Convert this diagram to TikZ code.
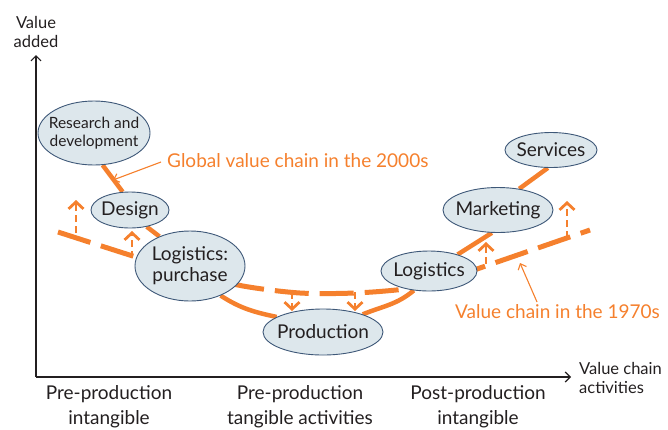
\documentclass[tikz,border=0pt]{standalone}
\usepackage{fontspec}
\setmainfont{Lato}
\usetikzlibrary{arrows.meta,backgrounds,shapes.geometric}
\definecolor{org}{RGB}{245,128,45}
\definecolor{efill}{RGB}{221,231,236}
\definecolor{edraw}{RGB}{62,88,120}
\definecolor{txt}{RGB}{35,31,32}
\begin{document}
\begin{tikzpicture}[x=1pt,y=1pt,
  el/.style={ellipse, draw=edraw, fill=efill, line width=0.9pt, inner sep=0pt},
  lbl/.style={text=txt, font=\fontsize{19}{21}\selectfont, align=center, inner sep=0pt},
  smalllbl/.style={text=txt, font=\fontsize{15.5}{17.5}\selectfont, align=center, inner sep=0pt},
  axlbl/.style={text=txt, font=\fontsize{16.5}{19}\selectfont, align=left, inner sep=0pt},
  botlbl/.style={text=txt, font=\fontsize{19}{25}\selectfont, align=center, inner sep=0pt},
  orglbl/.style={text=org, font=\fontsize{19}{21}\selectfont, inner sep=0pt, anchor=west},
  chain/.style={org, line width=4.5pt},
  oldchain/.style={org, line width=5pt, dash pattern=on 34pt off 11pt},
  shiftarrow/.style={org, line width=2.8pt, dash pattern=on 7pt off 4pt, -{Straight Barb[length=7pt,width=15pt,line width=2.8pt]}},
  note/.style={org, line width=1.1pt, -{Straight Barb[length=5pt,width=9pt]}},
  axis/.style={txt, line width=1.2pt}
]
\useasboundingbox (0,0) rectangle (668,-429);

% axes
\coordinate (origin) at (36,-377);
\coordinate (ytip) at (36,-55);
\coordinate (xtip) at (571,-377);
\draw[axis, -{Straight Barb[length=5pt,width=10pt]}] (origin) -- (ytip);
\draw[axis, -{Straight Barb[length=5pt,width=10pt]}] (origin) -- (xtip);
\node[axlbl, align=center] (yl) at (36,-32) {Value\\added};
\node[axlbl, anchor=west] (xl) at (579,-377.5) {Value chain\\activities};

% bottom labels
\node[botlbl] (b1) at (109,-407) {Pre-production\\intangible};
\node[botlbl] (b2) at (300,-407) {Pre-production\\tangible activities};
\node[botlbl] (b3) at (478,-407) {Post-production\\intangible};

% ellipses
\node[el, minimum width=112pt, minimum height=64pt] (rd) at (94,-133) {};
\node[el, minimum width=78pt, minimum height=36pt] (des) at (130,-210) {};
\node[el, minimum width=110pt, minimum height=70pt] (lp) at (190,-266) {};
\node[el, minimum width=120pt, minimum height=46pt] (prod) at (323,-332) {};
\node[el, minimum width=96pt, minimum height=40pt] (log) at (429,-271) {};
\node[el, minimum width=110pt, minimum height=45pt] (mkt) at (498,-210) {};
\node[el, minimum width=92pt, minimum height=35pt] (srv) at (551,-150) {};

\node[smalllbl] (rdt) at (rd) {Research and\\development};
\node[lbl] (dest) at (des) {Design};
\node[lbl] (lpt) at (lp) {Logistics:\\purchase};
\node[lbl] (prodt) at (prod) {Production};
\node[lbl] (logt) at (log) {Logistics};
\node[lbl] (mktt) at (mkt) {Marketing};
\node[lbl] (srvt) at (srv) {Services};

\begin{scope}[on background layer]
  % 1970s value chain
  \draw[oldchain] plot[smooth, tension=0.5] coordinates {(58,-232) (136,-257) (190,-273) (243,-286) (300,-293) (355,-293) (405,-289) (440,-282) (477,-269) (590,-230)};
  % 2000s global value chain
  \draw[chain] (rd.-75) -- (des.112);
  \draw[chain] (des.-45) -- (lp.136);
  \draw[chain] (lp.-44) to[out=-33,in=168] (prod.162);
  \draw[chain] (prod.24) to[out=22,in=-140] (log.-128);
  \draw[chain] (log.30) -- (mkt.-105);
  \draw[chain] (mkt.45) -- (srv.-100);
\end{scope}

% shift arrows
\coordinate (a1s) at (76,-233); \coordinate (a1e) at (76,-200);
\coordinate (a2s) at (132,-258); \coordinate (a2e) at (132,-231);
\coordinate (a3s) at (292,-292); \coordinate (a3e) at (292,-311);
\coordinate (a4s) at (355,-292); \coordinate (a4e) at (355,-311);
\coordinate (a5s) at (486,-264); \coordinate (a5e) at (486,-242);
\coordinate (a6s) at (567,-238); \coordinate (a6e) at (567,-201);
\draw[shiftarrow] (a1s) -- (a1e);
\draw[shiftarrow] (a2s) -- (a2e);
\draw[shiftarrow] (a3s) -- (a3e);
\draw[shiftarrow] (a4s) -- (a4e);
\draw[shiftarrow] (a5s) -- (a5e);
\draw[shiftarrow] (a6s) -- (a6e);

% annotations
\node[orglbl] (gvc) at (167,-161) {Global value chain in the 2000s};
\node[orglbl] (vc70) at (455,-312) {Value chain in the 1970s};
\coordinate (gvcp) at (113,-180);
\coordinate (vc70p) at (520,-263);
\draw[note] ([xshift=-6pt,yshift=-1pt]gvc.west) -- (gvcp);
\draw[note] ([xshift=82pt,yshift=10pt]vc70.west) -- (vc70p);
\end{tikzpicture}
\end{document}
